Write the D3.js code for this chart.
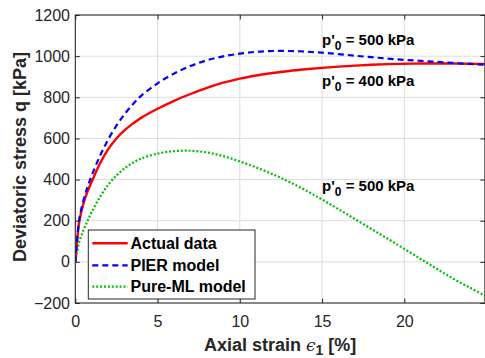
<!DOCTYPE html>
<html>
<head>
<meta charset="utf-8">
<script src="https://cdn.jsdelivr.net/npm/d3@7"></script>
<style>
  html, body { margin: 0; padding: 0; background: #ffffff; }
  svg { display: block; font-family: "Liberation Sans", Arial, Helvetica, sans-serif; }
</style>
</head>
<body>
<svg id="chart" width="485" height="358"></svg>
<script>
// ---- data ----
const strain = [0, 0.1, 0.25, 0.5, 0.75, 1, 1.5, 2, 2.5, 3, 3.5, 4, 5, 6, 7, 8, 9, 10, 11, 12, 13, 14, 15, 16, 17, 18, 19, 20, 21, 22, 23, 24, 24.9];
const actualData = [0, 95, 200, 285, 343, 390, 478, 548, 600, 640, 672, 700, 744, 783, 816, 846, 871, 891, 906, 918, 928, 936, 943, 949, 954, 958, 961, 963, 964, 964, 964, 963, 962];
const pierModel = [0, 100, 210, 300, 365, 420, 515, 595, 662, 718, 766, 807, 868, 915, 952, 980, 999, 1012, 1021, 1025, 1025, 1022, 1017, 1010, 1002, 995, 988, 982, 977, 972, 967, 962, 958];
const pureMLModel = [0, 45, 100, 155, 200, 243, 315, 375, 420, 455, 482, 502, 526, 538, 540, 532, 514, 488, 459, 426, 389, 348, 303, 256, 208, 160, 112, 63, 14, -35, -83, -126, -165];

const seriesNames = ["Actual data", "PIER model", "Pure-ML model"];
const xTicks = [0, 5, 10, 15, 20];
const yTicks = [-200, 0, 200, 400, 600, 800, 1000, 1200];
const xDomain = [0, 24.9];
const yDomain = [-200, 1200];

// annotation texts: p'_0 values and their anchor (data coordinates)
const annotPressure = [500, 400, 500];
const annotStrain = [15, 15, 15];
const annotStress = [1052, 855, 344];

// ---- layout ----
const svg = d3.select("#chart");
const L = 75.3, R = 484.9, T = 15, B = 303;
const x = d3.scaleLinear().domain(xDomain).range([L, R]);
const y = d3.scaleLinear().domain(yDomain).range([B, T]);
const axisColor = "#262626";
const gridColor = "#dcdcdc";

svg.append("rect").attr("width", 485).attr("height", 358).attr("fill", "#fff");

// grid
const grid = svg.append("g");
grid.selectAll("line.gx").data(xTicks.filter(d => d > 0)).join("line")
  .attr("x1", d => x(d)).attr("x2", d => x(d)).attr("y1", T).attr("y2", B)
  .attr("stroke", gridColor).attr("stroke-width", 1);
grid.selectAll("line.gy").data(yTicks.filter(d => d > yDomain[0] && d < yDomain[1])).join("line")
  .attr("x1", L).attr("x2", R).attr("y1", d => y(d)).attr("y2", d => y(d))
  .attr("stroke", gridColor).attr("stroke-width", 1);

// curves
svg.append("defs").append("clipPath").attr("id", "clip")
  .append("rect").attr("x", L).attr("y", T).attr("width", R - L).attr("height", B - T);

const series = [
  { name: seriesNames[0], values: actualData, color: "#ff0000", width: 2.4, dash: null },
  { name: seriesNames[1], values: pierModel, color: "#0000ff", width: 2.2, dash: "6,4" },
  { name: seriesNames[2], values: pureMLModel, color: "#00c000", width: 2.2, dash: "2,1.9" }
];

const line = d3.line().x(d => x(d[0])).y(d => y(d[1])).curve(d3.curveCatmullRom.alpha(0.5));
const plot = svg.append("g").attr("clip-path", "url(#clip)");
[2, 0, 1].forEach(i => {
  const s = series[i];
  plot.append("path")
    .datum(strain.map((v, j) => [v, s.values[j]]))
    .attr("d", line)
    .attr("fill", "none")
    .attr("stroke", s.color)
    .attr("stroke-width", s.width)
    .attr("stroke-dasharray", s.dash)
    .attr("stroke-linejoin", "round");
});

// axes (ticks inside)
const tickFont = 16;
const fmt = d3.format("d");
const gL = svg.append("g").attr("transform", `translate(${L},0)`)
  .call(d3.axisLeft(y).tickValues(yTicks).tickFormat(fmt).tickSize(-4.5).tickPadding(5.3));
const gB = svg.append("g").attr("transform", `translate(0,${B})`)
  .call(d3.axisBottom(x).tickValues(xTicks).tickFormat(fmt).tickSize(-4.5).tickPadding(12.3));
const gT = svg.append("g").attr("transform", `translate(0,${T})`)
  .call(d3.axisTop(x).tickValues(xTicks).tickSize(-4.5).tickFormat(""));
const gR = svg.append("g").attr("transform", `translate(${R},0)`)
  .call(d3.axisRight(y).tickValues(yTicks).tickSize(-4.5).tickFormat(""));
[gL, gB, gT, gR].forEach(g => {
  g.select(".domain").remove();
  g.selectAll(".tick line").attr("stroke", axisColor).attr("stroke-width", 1);
  g.selectAll(".tick text").attr("fill", axisColor).attr("font-size", tickFont)
    .attr("font-family", "Liberation Sans, Arial, sans-serif");
});

// box
svg.append("rect").attr("x", L).attr("y", T).attr("width", R - L).attr("height", B - T)
  .attr("fill", "none").attr("stroke", axisColor).attr("stroke-width", 1.1);

// axis titles
svg.append("text")
  .attr("transform", `translate(26,${(T + B) / 2 - 2}) rotate(-90)`)
  .attr("text-anchor", "middle").attr("font-size", 18).attr("font-weight", "bold")
  .attr("fill", axisColor)
  .text("Deviatoric stress q [kPa]");

const xt = svg.append("text")
  .attr("x", (L + R) / 2).attr("y", 350.5)
  .attr("text-anchor", "middle").attr("font-size", 18).attr("font-weight", "bold")
  .attr("fill", axisColor);
xt.append("tspan").text("Axial strain ");
xt.append("tspan").attr("font-family", "DejaVu Serif, serif").attr("font-weight", "normal")
  .attr("font-style", "italic").attr("font-size", 17).text("\u03F5");
xt.append("tspan").attr("dy", 4).attr("font-size", 14).text("1");
xt.append("tspan").attr("dy", -4).text(" [%]");

// annotations
annotPressure.forEach((p, i) => {
  const t = svg.append("text")
    .attr("x", x(annotStrain[i])).attr("y", y(annotStress[i]))
    .attr("font-size", 15).attr("font-weight", "bold").attr("fill", "#000");
  t.append("tspan").text("p'");
  t.append("tspan").attr("dy", 5).attr("font-size", 12).text("0");
  t.append("tspan").attr("dy", -5).text(` = ${p} kPa`);
});

// legend
const lg = svg.append("g");
const lgX = 88.3, lgY = 230, lgW = 166.7, lgH = 69;
lg.append("rect").attr("x", lgX).attr("y", lgY).attr("width", lgW).attr("height", lgH)
  .attr("fill", "#fff").attr("stroke", axisColor).attr("stroke-width", 1);
const rowY = [243.3, 265.3, 286.7];
series.forEach((s, i) => {
  lg.append("line").attr("x1", 92.3).attr("x2", 127.7).attr("y1", rowY[i]).attr("y2", rowY[i])
    .attr("stroke", s.color).attr("stroke-width", s.width).attr("stroke-dasharray", s.dash);
  lg.append("text").attr("x", 130.5).attr("y", rowY[i] + 5.6)
    .attr("font-size", 16).attr("font-weight", "bold").attr("fill", "#000")
    .text(s.name);
});
</script>
</body>
</html>
